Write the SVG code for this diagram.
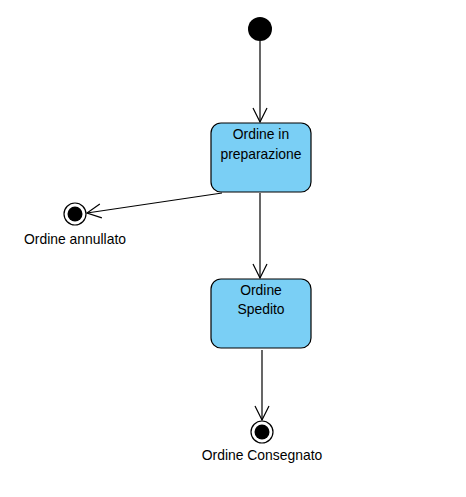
<svg xmlns="http://www.w3.org/2000/svg" width="466" height="497" viewBox="0 0 466 497">
<style>
.st{fill:#7ACFF5;stroke:#000;stroke-width:1.2}
.t{font-family:"Liberation Sans",Arial,sans-serif;font-size:13.9px;fill:#000;text-anchor:middle}
.c{stroke:#000;stroke-width:1.2;fill:none}
</style>
<defs>
<marker id="a" viewBox="0 0 16 16" refX="15" refY="8" markerWidth="16" markerHeight="16" markerUnits="userSpaceOnUse" orient="auto">
<path d="M1,1 L15,8 L1,15" fill="none" stroke="#000" stroke-width="1.2"/>
</marker>
</defs>
<rect width="466" height="497" fill="#fff"/>
<g id="connectors">
<line class="c" x1="260" y1="41" x2="260" y2="122" marker-end="url(#a)"/>
<line class="c" x1="222" y1="193" x2="87" y2="213" marker-end="url(#a)"/>
<line class="c" x1="260" y1="193" x2="260" y2="278" marker-end="url(#a)"/>
<line class="c" x1="262" y1="350" x2="262" y2="420" marker-end="url(#a)"/>
</g>
<g id="initial"><circle cx="260" cy="29" r="12" fill="#000"/></g>
<g id="preparazione">
<rect class="st" x="211" y="123" width="100" height="69" rx="10"/>
<text class="t" x="261" y="139">Ordine in</text>
<text class="t" x="261" y="159">preparazione</text>
</g>
<g id="annullato">
<circle cx="75" cy="214" r="11" fill="#fff" stroke="#000" stroke-width="1.2"/>
<circle cx="75" cy="214" r="7.5" fill="#000"/>
<text class="t" x="75" y="244">Ordine annullato</text>
</g>
<g id="spedito">
<rect class="st" x="211" y="279" width="100" height="69" rx="10"/>
<text class="t" x="261" y="295">Ordine</text>
<text class="t" x="261" y="314">Spedito</text>
</g>
<g id="consegnato">
<circle cx="262" cy="432" r="11" fill="#fff" stroke="#000" stroke-width="1.2"/>
<circle cx="262" cy="432" r="7.5" fill="#000"/>
<text class="t" x="262" y="460">Ordine Consegnato</text>
</g>
</svg>
